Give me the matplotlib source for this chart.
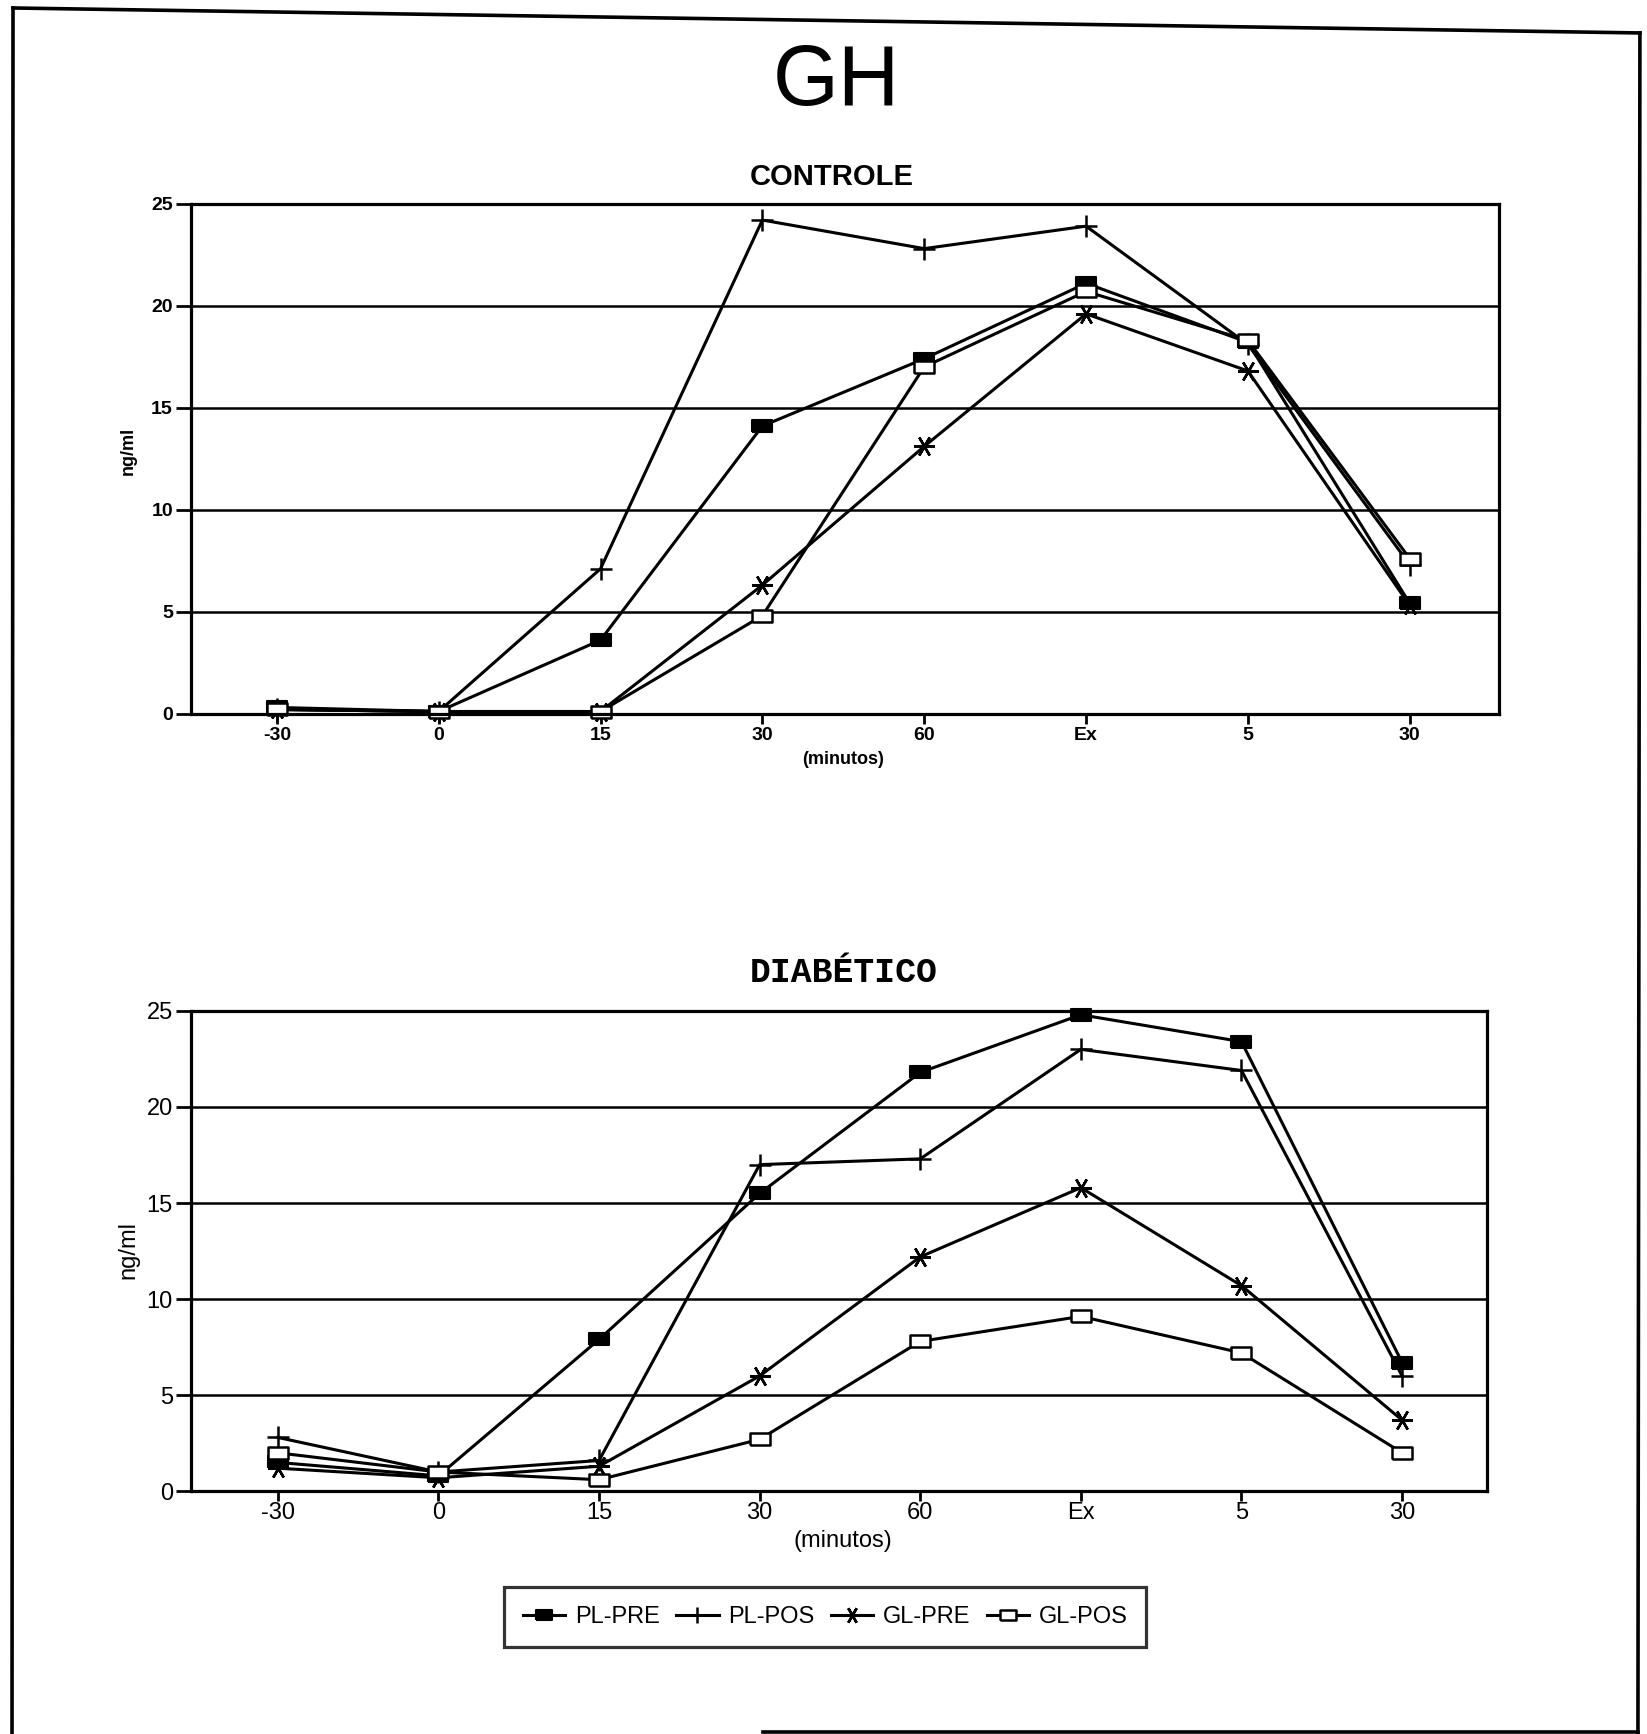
import numpy as np
import matplotlib
matplotlib.use("Agg")
import matplotlib.pyplot as plt
from matplotlib.lines import Line2D

# categories on the x axis (minutes)
cats = ['-30', '0', '15', '30', '60', 'Ex', '5', '30']
series = ['PL-PRE', 'PL-POS', 'GL-PRE', 'GL-POS']

# CONTROLE (ng/ml)
pl_pre_c = [0.3, 0.1, 3.6, 14.1, 17.4, 21.1, 18.2, 5.4]
pl_pos_c = [0.2, 0.1, 7.1, 24.2, 22.8, 23.9, 18.1, 7.3]
gl_pre_c = [0.2, 0.1, 0.1, 6.3, 13.1, 19.6, 16.8, 5.3]
gl_pos_c = [0.2, 0.1, 0.1, 4.8, 17.0, 20.7, 18.3, 7.6]

# DIABETICO (ng/ml)
pl_pre_d = [1.5, 0.8, 7.9, 15.5, 21.8, 24.8, 23.4, 6.7]
pl_pos_d = [2.8, 1.0, 1.6, 17.0, 17.3, 23.0, 21.9, 6.0]
gl_pre_d = [1.2, 0.7, 1.3, 6.0, 12.2, 15.8, 10.7, 3.7]
gl_pos_d = [2.0, 1.0, 0.6, 2.7, 7.8, 9.1, 7.2, 2.0]

yticks = [0, 5, 10, 15, 20, 25]

SANS = ['Liberation Sans', 'DejaVu Sans']
rect = [(-1, -0.55), (1, -0.55), (1, 0.55), (-1, 0.55), (-1, -0.55)]
styles = [
    dict(marker=rect, markersize=15, mfc='black', mec='black', mew=1.5),
    dict(marker='+', markersize=16, mfc='black', mec='black', mew=1.8),
    dict(marker=(6, 2, 90), markersize=15, mfc='black', mec='black', mew=1.8),
    dict(marker=rect, markersize=15, mfc='white', mec='black', mew=1.8),
]

fig = plt.figure(figsize=(16.47, 17.34), dpi=100)


def draw_panel(ax, data, xlim, lab_size, bold, xpad):
    x = np.arange(len(cats))
    for vals, st, name in zip(data, styles, series):
        ax.plot(x, vals, color='black', lw=2.2, label=name, clip_on=False, **st)
    ax.set_xlim(*xlim)
    ax.set_ylim(0, 25)
    ax.set_xticks(x)
    ax.set_xticklabels(cats)
    ax.set_yticks(yticks)
    for y in yticks:
        ax.axhline(y, color='black', lw=1.8, zorder=0)
    for s in ax.spines.values():
        s.set_linewidth(2.3)
    ax.tick_params(axis='y', length=11, width=2, direction='out', pad=2)
    ax.tick_params(axis='x', length=7, width=2, direction='out', pad=xpad)
    for lab in ax.get_xticklabels() + ax.get_yticklabels():
        lab.set_family(SANS)
        lab.set_fontsize(lab_size)
        lab.set_fontweight('bold' if bold else 'normal')


ax1 = fig.add_axes([0.116, 0.5885, 0.794, 0.294])
draw_panel(ax1, [pl_pre_c, pl_pos_c, gl_pre_c, gl_pos_c], (-0.53, 7.55), 14, True, 3)

ax2 = fig.add_axes([0.116, 0.140, 0.787, 0.277])
draw_panel(ax2, [pl_pre_d, pl_pos_d, gl_pre_d, gl_pos_d], (-0.54, 7.53), 17, False, 1)

# titles and axis labels
fig.text(0.508, 0.952, 'GH', ha='center', va='center', fontsize=61, family=SANS)
fig.text(0.505, 0.898, 'CONTROLE', ha='center', va='center', fontsize=21,
         fontweight='bold', family=SANS)
fig.text(0.512, 0.439, 'DIABÉTICO', ha='center', va='center', fontsize=25,
         fontweight='bold', family=['Liberation Mono', 'DejaVu Sans Mono'])
fig.text(0.512, 0.562, '(minutos)', ha='center', va='center', fontsize=13,
         fontweight='bold', family=SANS)
fig.text(0.078, 0.740, 'ng/ml', ha='center', va='center', fontsize=13,
         fontweight='bold', rotation=90, family=SANS)
fig.text(0.512, 0.1115, '(minutos)', ha='center', va='center', fontsize=17,
         family=SANS)
fig.text(0.078, 0.279, 'ng/ml', ha='center', va='center', fontsize=17,
         rotation=90, family=SANS)

# legend under the lower panel
handles, labels = ax2.get_legend_handles_labels()
leg = fig.legend(handles, labels, loc='center', bbox_to_anchor=(0.501, 0.0675),
                 ncol=4, frameon=True, fancybox=False, handlelength=1.8,
                 handletextpad=0.4, columnspacing=0.7, borderpad=0.8,
                 prop={'family': SANS, 'size': 17})
leg.get_frame().set_edgecolor('black')
leg.get_frame().set_linewidth(2.3)
for h in leg.legend_handles:
    h.set_markersize(12)

# page border of the scanned sheet
border = [
    ([0.0079, 0.9957], [0.9954, 0.9810]),
    ([0.9957, 0.9945], [0.9810, 0.0]),
    ([0.0073, 0.0079], [0.0, 0.9954]),
    ([0.463, 0.9945], [0.0012, 0.0012]),
]
for xs, ys in border:
    fig.add_artist(Line2D(xs, ys, transform=fig.transFigure, color='black', lw=2.6))

fig.savefig('out.png', dpi=100)
plt.close(fig)
